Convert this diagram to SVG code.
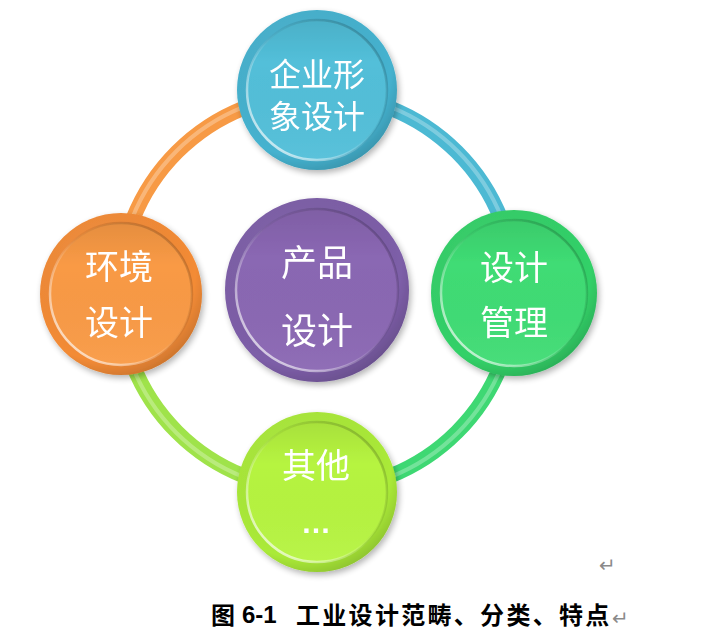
<svg xmlns="http://www.w3.org/2000/svg" width="720" height="640" viewBox="0 0 720 640">
<defs>
<style>
.lbl{font-family:"Noto Sans CJK SC","Noto Sans",sans-serif;fill:#ffffff;text-anchor:middle;font-size:34px}
.cap{font-family:"Noto Sans CJK SC","Liberation Sans",sans-serif;font-weight:bold;font-size:24px;fill:#000}
.num{font-family:"Liberation Sans",sans-serif;font-weight:bold;font-size:24px;fill:#000}
.ret{font-family:"DejaVu Sans",sans-serif;font-size:20px;fill:#8a8a8a}
.ring{fill:none;stroke-width:15;stroke-linecap:butt}
.ringhl{fill:none;stroke:#ffffff;stroke-opacity:0.28;stroke-width:4}
</style>
<radialGradient id="shade" cx="0.4" cy="0.35" r="0.7">
<stop offset="0" stop-color="#fff" stop-opacity="0.12"/>
<stop offset="0.8" stop-color="#000" stop-opacity="0"/>
<stop offset="1" stop-color="#000" stop-opacity="0.18"/>
</radialGradient>
<linearGradient id="rimhl" x1="0.1" y1="0.9" x2="0.9" y2="0.1">
<stop offset="0" stop-color="#fff" stop-opacity="0.75"/>
<stop offset="0.45" stop-color="#fff" stop-opacity="0.1"/>
<stop offset="0.6" stop-color="#000" stop-opacity="0.05"/>
<stop offset="1" stop-color="#000" stop-opacity="0.2"/>
</linearGradient>
<linearGradient id="innershade" x1="0" y1="0" x2="0" y2="1">
<stop offset="0" stop-color="#000" stop-opacity="0.08"/>
<stop offset="0.3" stop-color="#000" stop-opacity="0"/>
<stop offset="1" stop-color="#fff" stop-opacity="0.05"/>
</linearGradient>
<filter id="sh" x="-20%" y="-20%" width="140%" height="140%">
<feGaussianBlur in="SourceAlpha" stdDeviation="3"/>
<feOffset dx="2" dy="3" result="b"/>
<feComponentTransfer><feFuncA type="linear" slope="0.3"/></feComponentTransfer>
<feMerge><feMergeNode/><feMergeNode in="SourceGraphic"/></feMerge>
</filter>
</defs>
<rect width="720" height="640" fill="#ffffff"/>

<g id="connectors">
<path class="ring" stroke="#f79a45" d="M119,292 A198,198 0 0 1 317,94"/>
<path class="ring" stroke="#4cb9d3" d="M317,94 A198,198 0 0 1 515,292"/>
<path class="ring" stroke="#3ed873" d="M515,292 A198,198 0 0 1 317,490"/>
<path class="ring" stroke="#9fe34a" d="M317,490 A198,198 0 0 1 119,292"/>
<circle class="ringhl" cx="317" cy="292" r="199"/>
</g>

<g id="node-top" filter="url(#sh)">
<circle cx="317" cy="90" r="80" fill="#45b2cf"/>
<circle cx="317" cy="90" r="80" fill="url(#shade)"/>
<circle cx="317" cy="90" r="70" fill="#52bfd9" stroke="url(#rimhl)" stroke-width="2.5"/>
<circle cx="317" cy="90" r="70" fill="url(#innershade)"/>
<text class="lbl" x="317" y="86" style="font-size:32px">企业形</text>
<text class="lbl" x="317" y="128" style="font-size:32px">象设计</text>
</g>

<g id="node-left" filter="url(#sh)">
<circle cx="121" cy="294" r="81" fill="#f38b36"/>
<circle cx="121" cy="294" r="81" fill="url(#shade)"/>
<circle cx="121" cy="294" r="71" fill="#f99a45" stroke="url(#rimhl)" stroke-width="2.5"/>
<circle cx="121" cy="294" r="71" fill="url(#innershade)"/>
<text class="lbl" x="119" y="279">环境</text>
<text class="lbl" x="119" y="335">设计</text>
</g>

<g id="node-right" filter="url(#sh)">
<circle cx="514" cy="293" r="83" fill="#33d168"/>
<circle cx="514" cy="293" r="83" fill="url(#shade)"/>
<circle cx="514" cy="293" r="73" fill="#3fdc74" stroke="url(#rimhl)" stroke-width="2.5"/>
<circle cx="514" cy="293" r="73" fill="url(#innershade)"/>
<text class="lbl" x="514" y="280">设计</text>
<text class="lbl" x="514" y="335">管理</text>
</g>

<g id="node-bottom" filter="url(#sh)">
<circle cx="317" cy="492" r="80" fill="#aaea38"/>
<circle cx="317" cy="492" r="80" fill="url(#shade)"/>
<circle cx="317" cy="492" r="70" fill="#b6f440" stroke="url(#rimhl)" stroke-width="2.5"/>
<circle cx="317" cy="492" r="70" fill="url(#innershade)"/>
<text class="lbl" x="316" y="478">其他</text>
<text class="lbl" x="316" y="533" style="font-family:'Liberation Sans',sans-serif;font-weight:bold;font-size:30px">…</text>
</g>

<g id="node-center" filter="url(#sh)">
<circle cx="317" cy="290" r="92" fill="#7d5ea8"/>
<circle cx="317" cy="290" r="92" fill="url(#shade)"/>
<circle cx="317" cy="290" r="81" fill="#8a67b3" stroke="url(#rimhl)" stroke-width="2.5"/>
<circle cx="317" cy="290" r="81" fill="url(#innershade)"/>
<text class="lbl" x="317" y="276" style="font-size:36px">产品</text>
<text class="lbl" x="317" y="344" style="font-size:36px">设计</text>
</g>

<text class="ret" x="599" y="572">↵</text>
<text class="cap" x="211" y="624">图</text>
<text class="num" x="242" y="623">6-1</text>
<text class="cap" x="296" y="624" style="letter-spacing:2.3px">工业设计范畴、分类、特点</text>
<text class="ret" x="612" y="625">↵</text>
</svg>
